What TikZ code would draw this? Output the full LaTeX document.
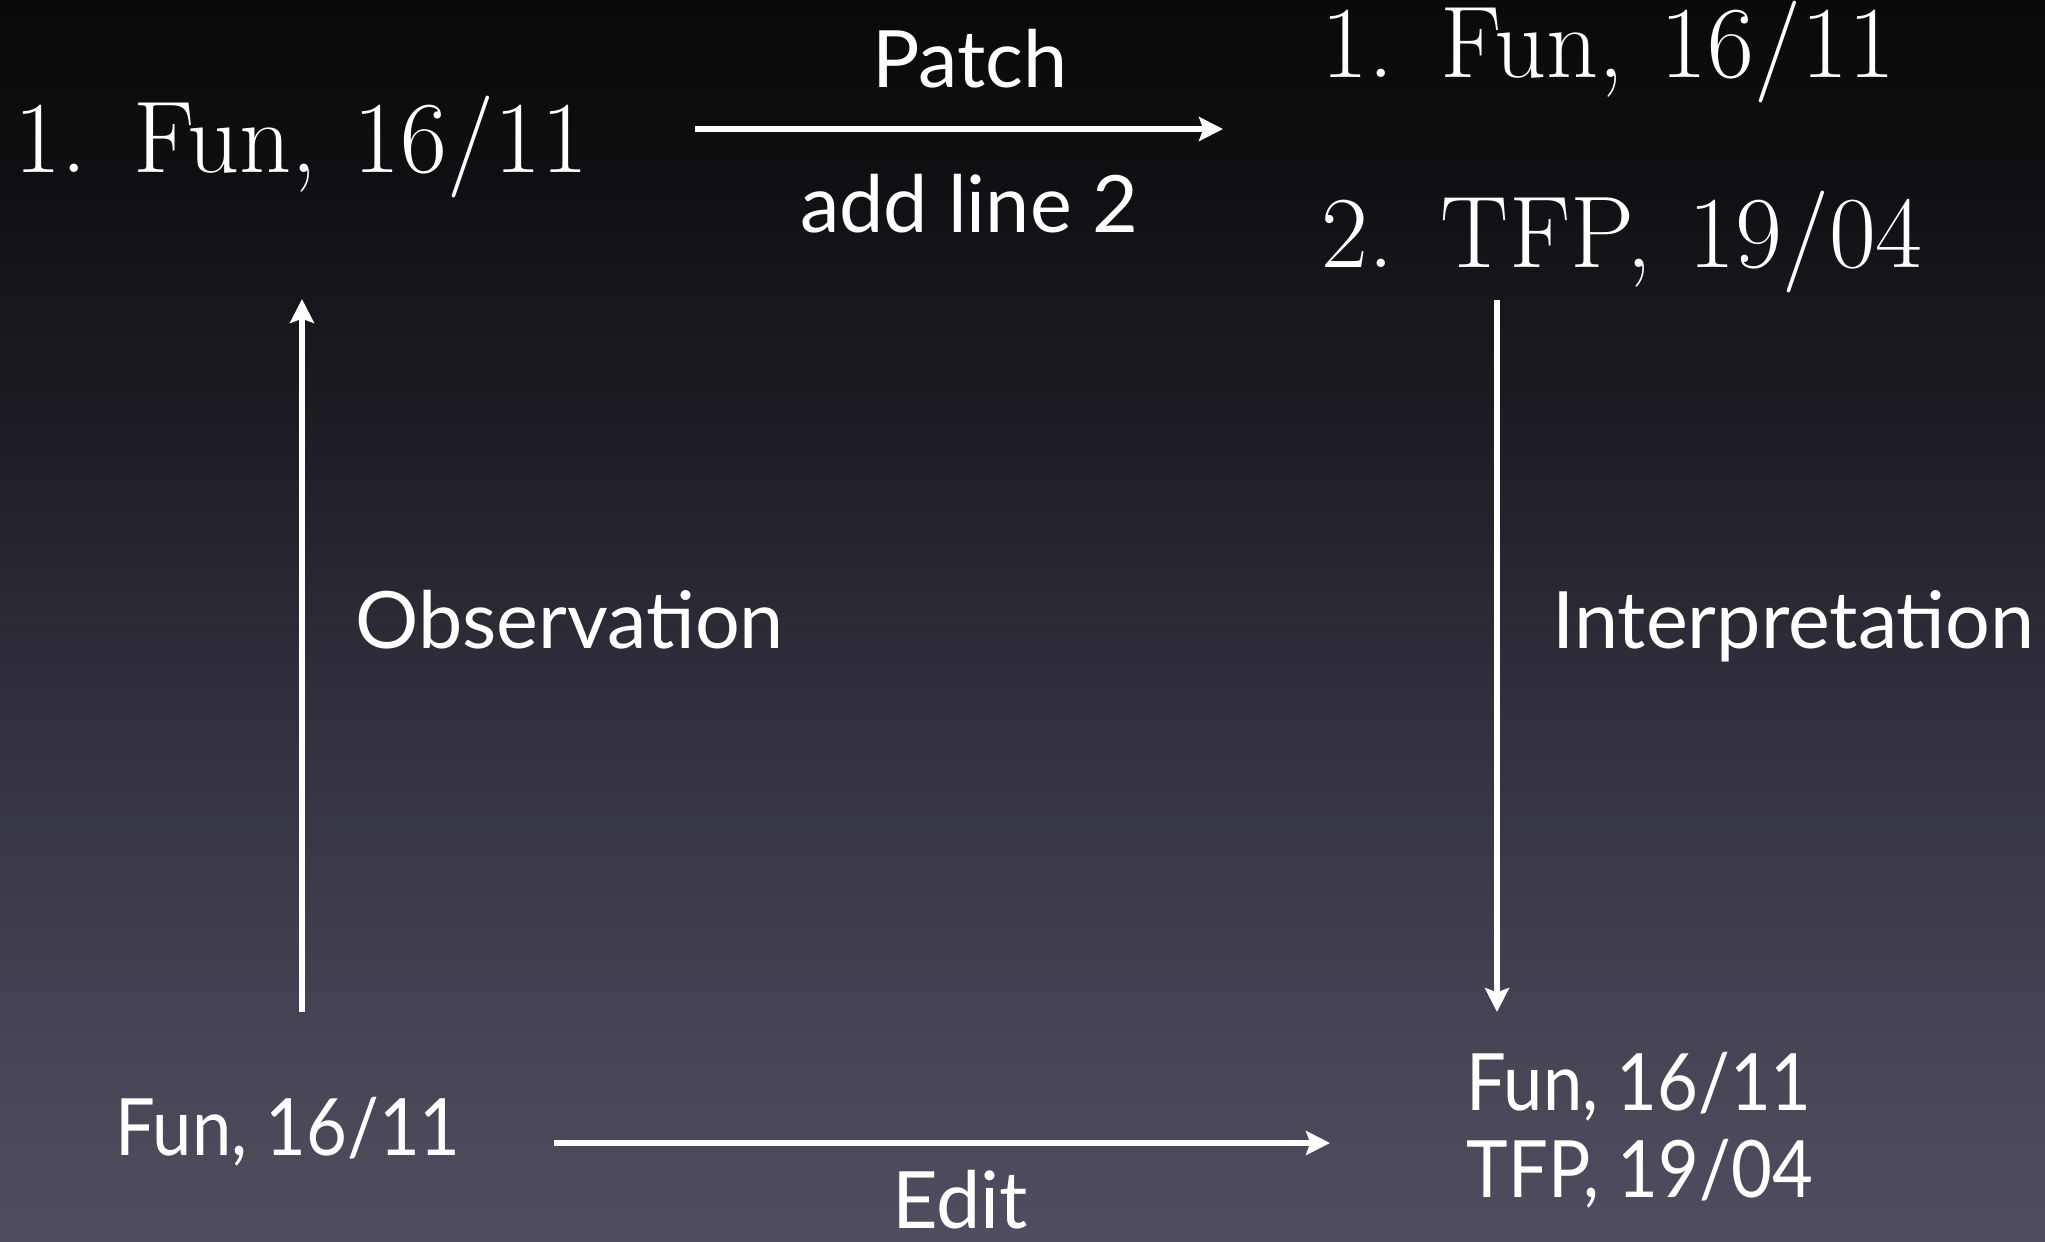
\documentclass[tikz,border=0pt]{standalone}
\usepackage{fontspec}
\setsansfont{Lato}
\usetikzlibrary{arrows.meta}
\definecolor{bgA}{RGB}{10,10,12}
\definecolor{bgB}{RGB}{14,14,17}
\definecolor{bgC}{RGB}{28,27,34}
\definecolor{bgD}{RGB}{48,47,60}
\definecolor{bgE}{RGB}{68,66,82}
\definecolor{bgF}{RGB}{80,77,96}
\pgfdeclareverticalshading{bgshade}{100bp}{color(0bp)=(bgF); color(25bp)=(bgF); color(34.7bp)=(bgE); color(46.8bp)=(bgD); color(58.9bp)=(bgC); color(68.95bp)=(bgB); color(75bp)=(bgA); color(100bp)=(bgA)}
\newcommand{\narrowtxt}[1]{\scalebox{0.89}[1]{#1}}
\newcommand{\itemtxt}[3]{#1.\hspace{0.46em}#2,\hspace{0.36em}#3}
\tikzset{
  serif/.style={inner sep=0pt, anchor=base west, text=white, font=\rmfamily\fontsize{29}{34}\selectfont},
  sans/.style={inner sep=0pt, anchor=base west, text=white, font=\sffamily\fontsize{22.5}{27}\selectfont},
  sansc/.style={sans, anchor=base},
  conn/.style={draw=white, line width=1.6pt, -{Stealth[length=6.8pt, width=6.8pt, inset=1.2pt]}}
}
\begin{document}
\begin{tikzpicture}[x=0.01cm, y=-0.01cm]
\useasboundingbox (0,0) rectangle (2045,1241);
\shade[shading=bgshade] (0,0) rectangle (2045,1241);
% top left
\node[serif] (tl) at (14,172) {\itemtxt{1}{Fun}{16/11}};
% top right
\node[serif] (tr1) at (1321,77) {\itemtxt{1}{Fun}{16/11}};
\node[serif] (tr2) at (1321,267) {\itemtxt{2}{TFP}{19/04}};
% labels
\node[sansc] (patch) at (970,87) {Patch};
\node[sansc] (addl) at (969,232) {add line 2};
\node[sans] (obs) at (355,648) {Observation};
\node[sans] (interp) at (1552,648) {Interpretation};
\node[sans] (bl) at (115,1155) {\narrowtxt{Fun, 16/11}};
\node[sans] (br1) at (1466,1110) {\narrowtxt{Fun, 16/11}};
\node[sans] (br2) at (1466,1197) {\narrowtxt{TFP, 19/04}};
\node[sansc] (edit) at (960,1228) {Edit};
% connector end points
\coordinate (pS) at (695,129);
\coordinate (pE) at (1223,129);
\coordinate (oS) at (302,1012);
\coordinate (oE) at (302,299);
\coordinate (iS) at (1497,300);
\coordinate (iE) at (1497,1012);
\coordinate (eS) at (554,1143);
\coordinate (eE) at (1330,1143);
\draw[conn] (pS) -- (pE);
\draw[conn] (oS) -- (oE);
\draw[conn] (iS) -- (iE);
\draw[conn] (eS) -- (eE);
\end{tikzpicture}
\end{document}
